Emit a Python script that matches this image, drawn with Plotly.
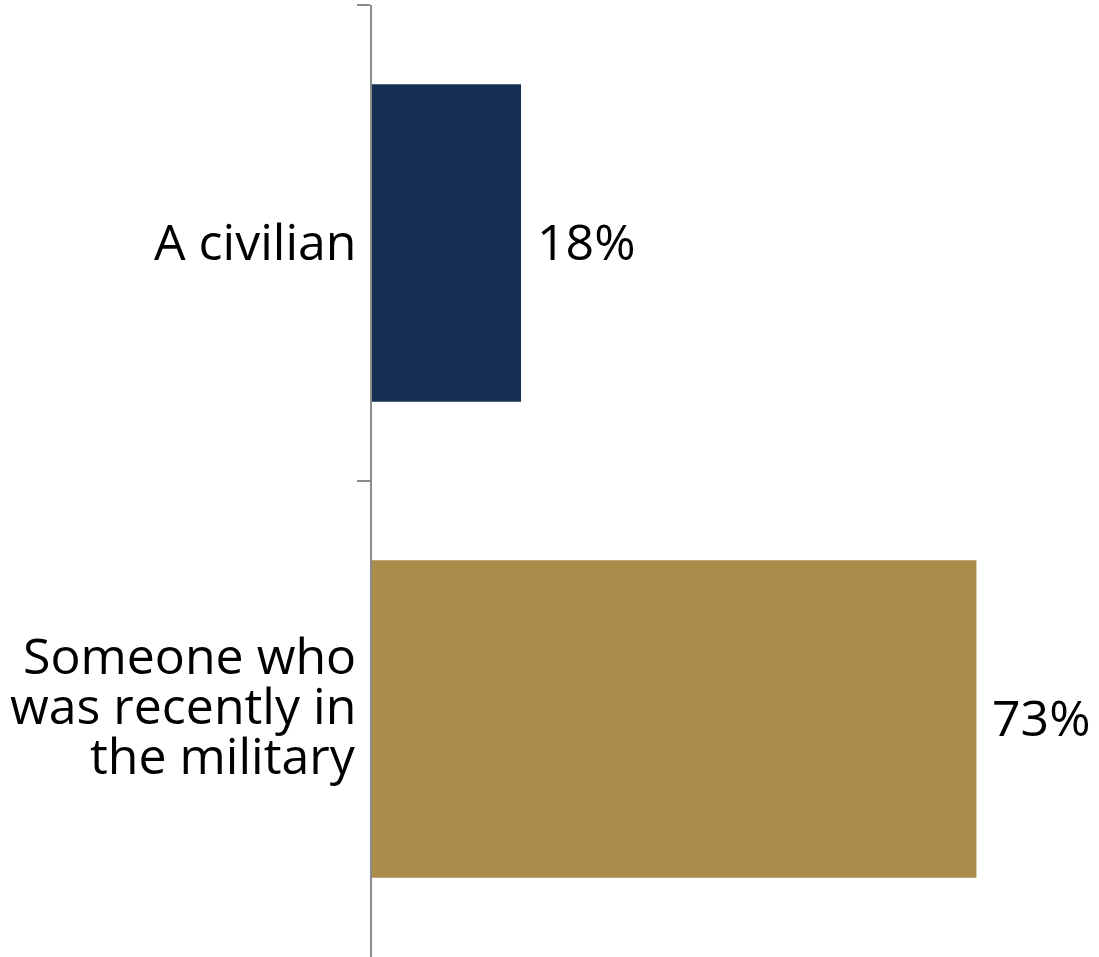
import plotly.graph_objects as go

categories = ["A civilian", "Someone who<br>was recently in<br>the military"]
values = [18, 73]
value_labels = ["18%", "73%"]
colors = ["#152F52", "#AB8C4B"]

FONT = "Open Sans"
FS = 50

fig = go.Figure()
fig.add_trace(go.Bar(
    y=categories, x=values, orientation="h",
    marker=dict(color=colors, line=dict(width=0)),
    width=0.667, hoverinfo="skip",
))

annotations = []
# category labels, one annotation per line for tight line spacing
line_gap = 50
for cat in categories:
    lines = cat.split("<br>")
    n = len(lines)
    offset = 12 if n > 1 else 0
    for i, ln in enumerate(lines):
        shift = (n - 1) / 2 * line_gap - i * line_gap + offset + 2
        annotations.append(dict(
            x=0, xref="paper", y=cat, yref="y", text=ln, showarrow=False,
            xanchor="right", yanchor="middle", xshift=-14, yshift=shift,
            font=dict(family=FONT, size=FS, color="black"),
        ))
# value labels
for cat, v, lab in zip(categories, values, value_labels):
    annotations.append(dict(
        x=v, xref="x", y=cat, yref="y", text=lab, showarrow=False,
        xanchor="left", yanchor="middle", xshift=14, yshift=2,
        font=dict(family=FONT, size=FS, color="black"),
    ))

fig.update_layout(
    width=1099, height=957,
    margin=dict(l=372, r=0, t=5, b=0, autoexpand=False),
    paper_bgcolor="white", plot_bgcolor="white",
    showlegend=False,
    annotations=annotations,
    xaxis=dict(range=[0, 87.8], visible=False, fixedrange=True),
    yaxis=dict(
        type="category", autorange="reversed",
        showline=True, linecolor="#8C8C8C", linewidth=1.5,
        ticks="outside", ticklen=13, tickcolor="#8C8C8C", tickwidth=1.5,
        tickson="boundaries", showticklabels=False, showgrid=False,
        zeroline=False, fixedrange=True,
    ),
)

fig.write_html("out.html", config={"displayModeBar": False},
               post_script="document.body.style.margin='0';")
